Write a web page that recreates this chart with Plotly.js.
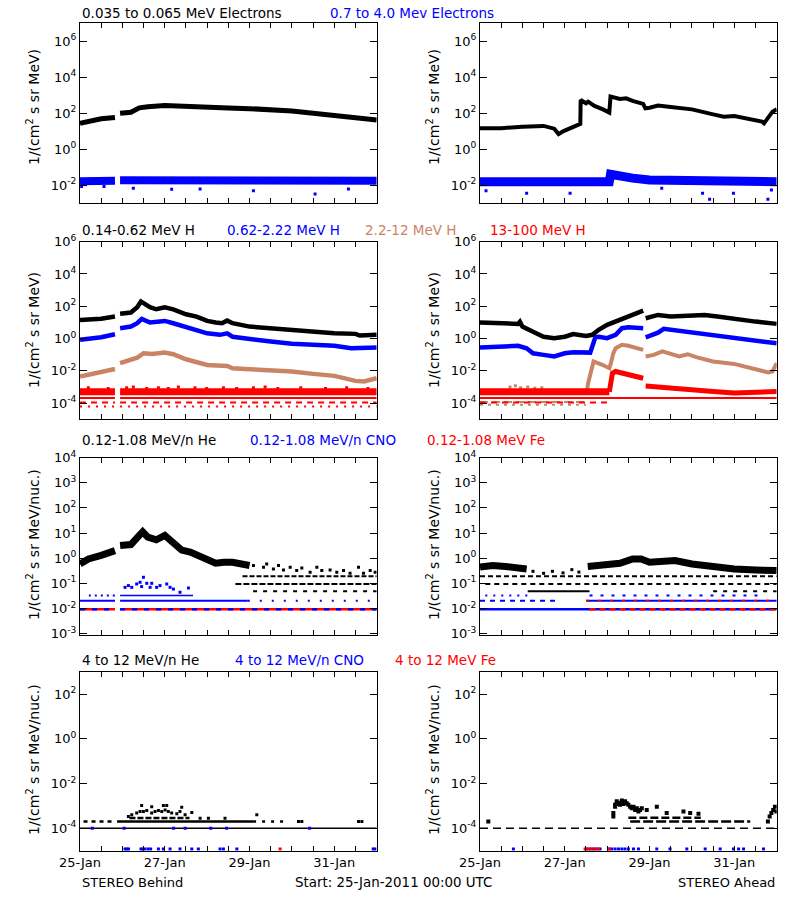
<!DOCTYPE html>
<html><head><meta charset="utf-8">
<script src="https://cdn.plot.ly/plotly-3.0.1.min.js"></script>
<style>body{margin:0;background:#fff}</style>
</head><body><div id="chart" style="width:800px;height:900px"></div>
<script>
// ---------- DATA (hours since 25-Jan-2011 00:00 UTC, flux values) ----------
// Row 1: electrons
const e_beh_lo_h = [0, 7.2, 12, 19.8, null, 22.7, 28.8, 33.6, 38.4, 48, 60, 72, 84, 96, 108, 120, 132, 144, 156, 168];
const e_beh_lo_v = [27.5, 39, 50, 58, null, 100, 115, 200, 234, 270, 257, 214, 200, 182, 158, 135, 100, 78, 58, 43];
const e_beh_hi_h = [0, 6, 12, 19.8, null, 22.7, 36, 48, 60, 72, 84, 96, 108, 120, 132, 144, 156, 168];
const e_beh_hi_v = [0.017, 0.018, 0.018, 0.018, null, 0.019, 0.019, 0.019, 0.018, 0.019, 0.019, 0.018, 0.018, 0.018, 0.018, 0.018, 0.018, 0.018];
const e_beh_hi_out_h = [0.9, 13.6, 30.2, 51.9, 68, 98.2, 133.1, 152];
const e_beh_hi_out_v = [0.0085, 0.0085, 0.0068, 0.006, 0.0063, 0.005, 0.0033, 0.0063];

const e_ahd_lo_h = [0, 12, 24, 36, 42, 44.5, 47, 48, 52.8, 56.4, 56.8, 57.0, 60, 61.2, 64.8, 69.6, 73.2, 73.9, 79.2, 82.8, 86.4, 92.4, 93.6, 96, 100.8, 108, 120, 132, 138, 144, 151.2, 159.6, 160.8, 163.2, 165.6, 168];
const e_ahd_lo_v = [14.8, 14.8, 18, 20, 14, 7, 10, 11, 16.6, 24.5, 25.7, 550, 363, 447, 257, 166, 110, 851, 631, 676, 490, 331, 190, 204, 269, 224, 166, 87, 65, 71, 50, 35, 27.5, 65, 123, 166];
const e_ahd_hi_h = [0, 24, 48, 73.2, 73.9, 79.2, 86.4, 96, 120, 144, 168];
const e_ahd_hi_v = [0.016, 0.017, 0.016, 0.016, 0.041, 0.030, 0.025, 0.020, 0.017, 0.016, 0.016];
const e_ahd_hi_out_h = [3.4, 26.4, 51, 102.9, 126, 130, 143.5, 163, 165];
const e_ahd_hi_out_v = [0.005, 0.0036, 0.0036, 0.0068, 0.0036, 0.0017, 0.0036, 0.0017, 0.0055];

// Row 2: protons
const p_beh_1_h = [0, 12, 19.8, null, 22.7, 28.8, 32.4, 34.5, 36, 39.6, 43.2, 48, 52.8, 60, 66, 72, 76.8, 80.4, 83.3, 86.4, 96, 108, 120, 132, 144, 156, 158.4, 168];
const p_beh_1_v = [14, 17, 23, null, 34, 41, 87, 195, 155, 87, 65, 87, 65, 32, 23, 12.3, 9.8, 8.9, 12.9, 8.9, 5.5, 4.4, 3.5, 2.5, 2.1, 1.95, 1.55, 1.7];
const p_beh_2_h = [0, 12, 19.8, null, 22.7, 28.8, 32.4, 35, 39.6, 48, 52.8, 60, 72, 79.2, 83.3, 86.4, 96, 108, 120, 132, 144, 153.6, 168];
const p_beh_2_v = [0.83, 1.2, 1.86, null, 4.4, 5.5, 8.9, 16.6, 9.8, 12.3, 8.9, 5.0, 2.1, 1.7, 2.1, 1.3, 0.91, 0.65, 0.47, 0.39, 0.355, 0.25, 0.275];
const p_beh_3_h = [0, 7.2, 12, 19.8, null, 22.7, 28.8, 32.4, 36, 40.8, 48, 52.8, 60, 72, 83.3, 86.4, 96, 108, 120, 132, 144, 156, 160.8, 168];
const p_beh_3_v = [0.0045, 0.0065, 0.0091, 0.013, null, 0.030, 0.048, 0.066, 0.123, 0.112, 0.135, 0.107, 0.052, 0.023, 0.020, 0.0145, 0.0126, 0.0115, 0.0091, 0.0065, 0.0049, 0.0024, 0.0022, 0.0035];
const p_beh_4_h = [0, 19.8, null, 22.7, 168];
const p_beh_4_v = [5e-4, 5e-4, null, 5e-4, 5e-4];
const p_beh_4_q1_v = [2.1e-4, 2.1e-4, null, 2.1e-4, 2.1e-4];
const p_beh_4_q2_v = [1.1e-4, 1.1e-4, null, 1.1e-4, 1.1e-4];
const p_beh_4_q3_v = [6.3e-5, 6.3e-5, null, 6.3e-5, 6.3e-5];
const p_beh_4_pts_h = [4.7, 16, 26.4, 30.2, 37.8, 44.4, 50, 55.7, 65.1, 71.7, 81.2, 88.7, 98.2, 104.8, 112, 125, 139, 151, 163];
const p_beh_4_pts_v = [9e-4, 8e-4, 9e-4, 1e-3, 8e-4, 9e-4, 8e-4, 1e-3, 9e-4, 8e-4, 9e-4, 8e-4, 9e-4, 1e-3, 8e-4, 9e-4, 8e-4, 9e-4, 8e-4];

const p_ahd_1_h = [0, 12, 21.6, 22.6, 24, 31.2, 36, 42, 48, 52.8, 60, 63.6, 67.2, 72, 76.8, 84, 90, 92.4, null, 93.8, 100.8, 108, 120, 127.2, 134.4, 144, 156, 168];
const p_ahd_1_v = [9.8, 8.9, 8.1, 11, 5.5, 2.3, 1.3, 1.05, 1.3, 1.9, 1.45, 1.7, 3.5, 7.1, 11.2, 23, 37, 54, null, 18, 29, 23, 25, 29, 23, 16, 11.2, 8.1];
const p_ahd_2_h = [0, 12, 21.6, 26.4, 30, 36, 42, 48, 52.8, 62.4, 63.6, 65.3, 67.2, 72, 76.8, 80.4, 84, 92.4, null, 93.8, 100.8, 104, 108, 120, 132, 144, 156, 168];
const p_ahd_2_v = [0.275, 0.32, 0.355, 0.25, 0.123, 0.098, 0.078, 0.123, 0.141, 0.135, 0.32, 1.2, 1.3, 1.05, 1.7, 4.4, 5.0, 4.4, null, 1.2, 2.3, 4.0, 3.5, 2.3, 1.7, 1.05, 0.65, 0.51];
const p_ahd_3_h = [0, 60.5, 61.2, 62.9, 64.3, 69.6, 73.2, 73.9, 75.5, 76.8, 80.4, 84, 92.4, null, 93.8, 98.4, 103.2, 108, 112.8, 117.6, 122.4, 132, 144, 156, 163.2, 165.6, 168];
const p_ahd_3_v = [5e-4, 5e-4, 0.0017, 0.0115, 0.038, 0.023, 0.0145, 0.025, 0.126, 0.25, 0.41, 0.355, 0.20, null, 0.078, 0.098, 0.16, 0.112, 0.078, 0.107, 0.071, 0.038, 0.027, 0.0126, 0.0079, 0.0091, 0.030];
const p_ahd_3_q_h = [0, 60];
const p_ahd_3_q1_v = [1.2e-4, 1.2e-4];
const p_ahd_3_q2_v = [8e-5, 8e-5];
const p_ahd_3_pts_h = [17, 20, 23, 27, 31, 35];
const p_ahd_3_pts_v = [1e-3, 1.2e-3, 9e-4, 1e-3, 8.5e-4, 9e-4];
const p_ahd_4a_h = [0, 73.2];
const p_ahd_4a_v = [5e-4, 5e-4];
const p_ahd_4b_h = [73.2, 73.9, 75, 76.8, 84, 92.4, null, 93.8, 108, 120, 132, 144, 168];
const p_ahd_4b_v = [5e-4, 0.0017, 0.0072, 0.0091, 0.0056, 0.0035, null, 0.00117, 8.5e-4, 6e-4, 5.2e-4, 4.2e-4, 5.2e-4];
const p_ahd_4_q1_h = [0, 168];
const p_ahd_4_q1_v = [2.1e-4, 2.1e-4];
const p_ahd_4_q2_h = [0, 73];
const p_ahd_4_q2_v = [1.1e-4, 1.1e-4];

// Row 3: 0.12-1.08 MeV/n ions
const he_beh_h = [0, 4.8, 12, 19.8, null, 22.7, 28.8, 33.6, 35.5, 38.4, 43.2, 48, 52.8, 57.6, 62.4, 67.2, 72, 76.8, 81.6, 86.4, 96];
const he_beh_v = [0.59, 0.93, 1.29, 2.0, null, 3.2, 3.5, 8.1, 11.2, 6.9, 5.4, 8.1, 4.4, 2.1, 1.74, 1.29, 1.0, 0.63, 0.69, 0.69, 0.51];
const he_beh_tail_h = [98.2, 103.9, 105.7, 109.5, 112.4, 115.2, 119, 122.7, 125.6, 130.3, 134.1, 136.9, 141.6, 145.4, 149.2, 152.9, 157.7, 160.5, 164.3, 167.1];
const he_beh_tail_v = [0.51, 0.44, 0.59, 0.37, 0.51, 0.34, 0.44, 0.32, 0.41, 0.275, 0.44, 0.32, 0.34, 0.275, 0.32, 0.25, 0.44, 0.25, 0.32, 0.275];
const he_beh_q1_h = [92, 168];  const he_beh_q1_v = [0.19, 0.19];
const he_beh_q2_h = [88, 168];  const he_beh_q2_v = [0.093, 0.093];
const he_beh_q3_h = [98, 168];  const he_beh_q3_v = [0.048, 0.048];
const cno_beh_q1a_h = [5, 19.8]; const cno_beh_q1a_v = [0.033, 0.033];
const cno_beh_q1b_h = [22.7, 64]; const cno_beh_q1b_v = [0.033, 0.033];
const cno_beh_q2a_h = [0, 19.8, null, 22.7, 95]; const cno_beh_q2a_v = [0.02, 0.02, null, 0.02, 0.02];
const cno_beh_q2b_h = [95, 168]; const cno_beh_q2b_v = [0.02, 0.02];
const lvl_beh_h = [0, 19.8, null, 22.7, 168]; const lvl_beh_v = [0.0093, 0.0093, null, 0.0093, 0.0093];
const cno_beh_pts_h = [25.5, 27.4, 29.3, 32.1, 34, 34.9, 35.9, 37.8, 39.7, 40.6, 43.4, 45.3, 49.1, 51, 52.9, 56.6, 61.4];
const cno_beh_pts_v = [0.069, 0.081, 0.069, 0.094, 0.11, 0.074, 0.174, 0.1, 0.069, 0.1, 0.069, 0.081, 0.094, 0.069, 0.059, 0.044, 0.065];

const he_ahd_h = [0, 7.2, 14.4, 19.2, 26.4, null, 61, 72, 79.2, 86.4, 91.2, 96, 103.2, 110.4, 120, 132, 144, 156, 168];
const he_ahd_v = [0.44, 0.51, 0.47, 0.44, 0.37, null, 0.47, 0.51, 0.63, 0.93, 0.93, 0.69, 0.81, 0.81, 0.59, 0.44, 0.37, 0.34, 0.32];
const he_ahd_q1_h = [0, 168];   const he_ahd_q1_v = [0.19, 0.19];
const he_ahd_q2_h = [3, 168];   const he_ahd_q2_v = [0.093, 0.093];
const he_ahd_q3a_h = [27, 62];  const he_ahd_q3a_v = [0.048, 0.048];
const he_ahd_q3b_h = [132, 168]; const he_ahd_q3b_v = [0.048, 0.048];
const cno_ahd_q1a_h = [3, 28];   const cno_ahd_q1a_v = [0.033, 0.033];
const cno_ahd_q1b_h = [62, 158]; const cno_ahd_q1b_v = [0.033, 0.033];
const cno_ahd_q2a_h = [0, 45];   const cno_ahd_q2a_v = [0.02, 0.02];
const cno_ahd_q2b_h = [60, 168]; const cno_ahd_q2b_v = [0.02, 0.02];
const lvl_ahd_h = [0, 168];      const lvl_ahd_v = [0.0093, 0.0093];
const fe_ahd_h = [62, 168];      const fe_ahd_v = [0.0093, 0.0093];
const he_ahd_sp_h = [30, 36, 41, 47, 52, 56];
const he_ahd_sp_v = [0.3, 0.25, 0.3, 0.26, 0.35, 0.28];

// Row 4: 4-12 MeV/n ions
const he4_beh_base_h = [0, 168]; const he4_beh_base_v = [1e-4, 1e-4];
const he4_beh_qa_h = [2, 20];    const he4_beh_qa_v = [2e-4, 2e-4];
const he4_beh_qb_h = [21, 98];   const he4_beh_qb_v = [2e-4, 2e-4];
const he4_beh_qc_h = [98, 115];  const he4_beh_qc_v = [2e-4, 2e-4];
const he4_beh_qd_h = [28, 62];   const he4_beh_qd_v = [2.9e-4, 2.9e-4];
const he4_beh_pts_h = [27.4, 29.3, 32.1, 34, 35.9, 37.8, 40.6, 42.5, 44.4, 46.3, 48.2, 50, 51.9, 54.8, 56.6, 59.5, 63.3, 68, 72.7, 82.1, 100.1, 34.9, 40.6, 47.2, 49.1, 57.6, 123.7, 125.6, 157.7, 159.6];
const he4_beh_pts_v = [3.4e-4, 4.0e-4, 4.8e-4, 5.6e-4, 5.6e-4, 6.2e-4, 4.8e-4, 5.6e-4, 6.2e-4, 5.6e-4, 6.6e-4, 5.6e-4, 4.8e-4, 4.5e-4, 5.6e-4, 4.0e-4, 5.1e-4, 2.8e-4, 2.8e-4, 2.8e-4, 4.0e-4, 1.05e-3, 9.3e-4, 1.05e-3, 1.05e-3, 8.7e-4, 2e-4, 2e-4, 2e-4, 2e-4];
const cno4_beh_bot_h = [25.5, 26.5, 27.5, 34.5, 35.5, 36.5, 38.4, 40, 44.4, 47.2, 51, 56.6, 63.3, 67, 79.3, 81.2, 88.8, 166, 167];
const cno4_beh_bot_v = [1.2e-5, 1.2e-5, 1.2e-5, 1.2e-5, 1.2e-5, 1.2e-5, 1.2e-5, 1.2e-5, 1.2e-5, 1.2e-5, 1.2e-5, 1.2e-5, 1.2e-5, 1.2e-5, 1.2e-5, 1.2e-5, 1.2e-5, 1.2e-5, 1.2e-5];
const cno4_beh_mid_h = [7, 25, 53, 59.5, 74, 83, 130];
const cno4_beh_mid_v = [1e-4, 1e-4, 1e-4, 1e-4, 1e-4, 1e-4, 1e-4];
const fe4_beh_h = [113.3]; const fe4_beh_v = [1.2e-5];

const he4_ahd_base_h = [0, 168];   const he4_ahd_base_v = [1e-4, 1e-4];
const he4_ahd_q2_h = [85, 153];    const he4_ahd_q2_v = [2e-4, 2e-4];
const he4_ahd_q3_h = [84, 125];    const he4_ahd_q3_v = [3e-4, 3e-4];
const he4_ahd_pts_h = [4.7, 75.5, 76.5, 77.4, 78.4, 79.3, 80.3, 81.2, 82.1, 83.1, 84, 85, 85.9, 86.9, 87.8, 88.8, 89.7, 90.6, 91.6, 94.4, 100.1, 105.7, 115.2, 119, 123.7, 75.5, 76.5, 77.4, 79.3, 81.2, 163, 164, 165, 166, 167, 167.8];
const he4_ahd_pts_v = [2e-4, 4.8e-4, 1.12e-3, 1.6e-3, 1.33e-3, 1.4e-3, 1.74e-3, 1.23e-3, 1.6e-3, 1.33e-3, 1.12e-3, 9.3e-4, 7.9e-4, 9.3e-4, 6.6e-4, 7.9e-4, 5.6e-4, 6.6e-4, 7.9e-4, 6.6e-4, 9.3e-4, 4.8e-4, 5.6e-4, 4.8e-4, 4.5e-4, 3.4e-4, 9.3e-4, 1.23e-3, 1.12e-3, 1.4e-3, 2e-4, 3.4e-4, 4.8e-4, 6.6e-4, 9.3e-4, 5.6e-4];
const cno4_ahd_bot_h = [18.9, 60.4, 62.3, 64.2, 66.1, 68, 72.7, 74.6, 76.5, 78.4, 80.3, 82.1, 84, 86.9, 89.7, 100.1, 107.6, 117.1, 127.5, 136, 143.5, 146.4, 149.2, 160.5];
const cno4_ahd_bot_v = [1.2e-5, 1.2e-5, 1.2e-5, 1.2e-5, 1.2e-5, 1.2e-5, 1.2e-5, 1.2e-5, 1.2e-5, 1.2e-5, 1.2e-5, 1.2e-5, 1.2e-5, 1.2e-5, 1.2e-5, 1.2e-5, 1.2e-5, 1.2e-5, 1.2e-5, 1.2e-5, 1.2e-5, 1.2e-5, 1.2e-5, 1.2e-5];
const fe4_ahd_bot_h = [59.5, 61.4, 63.3, 65.2, 67.1, 73.3];
const fe4_ahd_bot_v = [1.2e-5, 1.2e-5, 1.2e-5, 1.2e-5, 1.2e-5, 1.2e-5];

// Tick labels
const row1_tickvals = [1e-2, 1, 1e2, 1e4, 1e6];
const row1_ticktext = ['10<sup>-2</sup>', '10<sup>0</sup>', '10<sup>2</sup>', '10<sup>4</sup>', '10<sup>6</sup>'];
const row2_tickvals = [1e-4, 1e-2, 1, 1e2, 1e4, 1e6];
const row2_ticktext = ['10<sup>-4</sup>', '10<sup>-2</sup>', '10<sup>0</sup>', '10<sup>2</sup>', '10<sup>4</sup>', '10<sup>6</sup>'];
const row3_tickvals = [1e-3, 1e-2, 1e-1, 1, 10, 100, 1e3, 1e4];
const row3_ticktext = ['10<sup>-3</sup>', '10<sup>-2</sup>', '10<sup>-1</sup>', '10<sup>0</sup>', '10<sup>1</sup>', '10<sup>2</sup>', '10<sup>3</sup>', '10<sup>4</sup>'];
const row4_tickvals = [1e-4, 1e-2, 1, 1e2];
const row4_ticktext = ['10<sup>-4</sup>', '10<sup>-2</sup>', '10<sup>0</sup>', '10<sup>2</sup>'];

// ---------- BUILD ----------
const K = '#000000', B = '#0000ff', BR = '#c98466', R = '#ff0000';
const FONT = 'DejaVu Sans';
const T0 = Date.UTC(2011, 0, 25);
const tx = hs => hs.map(h => (h === null ? null : T0 + h * 3600000));
const an = (p, c) => (p === 1 ? c : c + p);
function L(h, v, color, width, p, dash) {
  return {type: 'scatter', mode: 'lines', x: tx(h), y: v, xaxis: an(p, 'x'), yaxis: an(p, 'y'),
    line: {color: color, width: width, dash: dash || 'solid'}, connectgaps: false, hoverinfo: 'skip', showlegend: false};
}
function M(h, v, color, size, p) {
  return {type: 'scatter', mode: 'markers', x: tx(h), y: v, xaxis: an(p, 'x'), yaxis: an(p, 'y'),
    marker: {color: color, size: size, symbol: 'square', line: {width: 0}}, hoverinfo: 'skip', showlegend: false};
}

const traces = [
  // panel 1
  L(e_beh_hi_h, e_beh_hi_v, B, 8, 1), M(e_beh_hi_out_h, e_beh_hi_out_v, B, 3, 1),
  L(e_beh_lo_h, e_beh_lo_v, K, 5, 1),
  // panel 2
  L(e_ahd_hi_h, e_ahd_hi_v, B, 9, 2), M(e_ahd_hi_out_h, e_ahd_hi_out_v, B, 3, 2),
  L(e_ahd_lo_h, e_ahd_lo_v, K, 4, 2),
  // panel 3
  L(p_beh_4_h, p_beh_4_q3_v, R, 2, 3, '2px,6px'), L(p_beh_4_h, p_beh_4_q2_v, R, 2, 3, '6px,5px'),
  L(p_beh_4_h, p_beh_4_q1_v, R, 2, 3), L(p_beh_4_h, p_beh_4_v, R, 7, 3), M(p_beh_4_pts_h, p_beh_4_pts_v, R, 3, 3),
  L(p_beh_3_h, p_beh_3_v, BR, 4.5, 3), L(p_beh_2_h, p_beh_2_v, B, 4.5, 3), L(p_beh_1_h, p_beh_1_v, K, 4.5, 3),
  // panel 4
  L(p_ahd_3_q_h, p_ahd_3_q2_v, BR, 2, 4, '3px,5px'), L(p_ahd_3_q_h, p_ahd_3_q1_v, BR, 2, 4, '8px,4px'),
  L(p_ahd_4_q2_h, p_ahd_4_q2_v, R, 2, 4, '6px,5px'), L(p_ahd_4_q1_h, p_ahd_4_q1_v, R, 2, 4),
  L(p_ahd_3_h, p_ahd_3_v, BR, 4, 4), M(p_ahd_3_pts_h, p_ahd_3_pts_v, BR, 3, 4),
  L(p_ahd_4a_h, p_ahd_4a_v, R, 7, 4), L(p_ahd_4b_h, p_ahd_4b_v, R, 5, 4),
  L(p_ahd_2_h, p_ahd_2_v, B, 4.5, 4), L(p_ahd_1_h, p_ahd_1_v, K, 4.5, 4),
  // panel 5
  L(lvl_beh_h, lvl_beh_v, R, 2.5, 5), L(lvl_beh_h, lvl_beh_v, B, 2.5, 5, '5px,7px'),
  L(cno_beh_q2a_h, cno_beh_q2a_v, B, 2, 5), L(cno_beh_q2b_h, cno_beh_q2b_v, B, 2, 5, '2px,10px'),
  L(cno_beh_q1a_h, cno_beh_q1a_v, B, 2, 5, '2px,4px'), L(cno_beh_q1b_h, cno_beh_q1b_v, B, 1.5, 5),
  M(cno_beh_pts_h, cno_beh_pts_v, B, 3, 5),
  L(he_beh_q3_h, he_beh_q3_v, K, 2, 5, '4px,6px'), L(he_beh_q2_h, he_beh_q2_v, K, 2, 5, '6px,2px'),
  L(he_beh_q1_h, he_beh_q1_v, K, 2, 5, '5px,2px'),
  L(he_beh_h, he_beh_v, K, 7, 5), M(he_beh_tail_h, he_beh_tail_v, K, 3, 5),
  // panel 6
  L(lvl_ahd_h, lvl_ahd_v, B, 2.5, 6), L(fe_ahd_h, fe_ahd_v, R, 2.5, 6, '6px,4px'),
  L(cno_ahd_q2a_h, cno_ahd_q2a_v, B, 2, 6, '5px,5px'), L(cno_ahd_q2b_h, cno_ahd_q2b_v, B, 2, 6),
  L(cno_ahd_q2b_h, cno_ahd_q2b_v, R, 2, 6, '3px,9px'),
  L(cno_ahd_q1a_h, cno_ahd_q1a_v, B, 2, 6, '2px,6px'), L(cno_ahd_q1b_h, cno_ahd_q1b_v, B, 2, 6, '3px,8px'),
  L(he_ahd_q3a_h, he_ahd_q3a_v, K, 2, 6), L(he_ahd_q3b_h, he_ahd_q3b_v, K, 2, 6, '4px,6px'),
  L(he_ahd_q2_h, he_ahd_q2_v, K, 2, 6, '5px,4px'), L(he_ahd_q1_h, he_ahd_q1_v, K, 2, 6, '5px,3px'),
  L(he_ahd_h, he_ahd_v, K, 7, 6), M(he_ahd_sp_h, he_ahd_sp_v, K, 3, 6),
  // panel 7
  L(he4_beh_base_h, he4_beh_base_v, K, 1.5, 7), M(cno4_beh_mid_h, cno4_beh_mid_v, B, 3, 7),
  L(he4_beh_qa_h, he4_beh_qa_v, K, 2.5, 7, '4px,4px'), L(he4_beh_qb_h, he4_beh_qb_v, K, 2.5, 7),
  L(he4_beh_qc_h, he4_beh_qc_v, K, 2.5, 7, '3px,6px'), L(he4_beh_qd_h, he4_beh_qd_v, K, 2.5, 7, '6px,2px'),
  M(he4_beh_pts_h, he4_beh_pts_v, K, 3, 7),
  M(cno4_beh_bot_h, cno4_beh_bot_v, B, 3, 7), M(fe4_beh_h, fe4_beh_v, R, 3, 7),
  // panel 8
  L(he4_ahd_base_h, he4_ahd_base_v, K, 1.5, 8, '8px,5px'),
  L(he4_ahd_q2_h, he4_ahd_q2_v, K, 2.5, 8, '10px,3px'), L(he4_ahd_q3_h, he4_ahd_q3_v, K, 2.5, 8, '8px,3px'),
  M(he4_ahd_pts_h, he4_ahd_pts_v, K, 4, 8),
  M(cno4_ahd_bot_h, cno4_ahd_bot_v, B, 3, 8), M(fe4_ahd_bot_h, fe4_ahd_bot_v, R, 3, 8)
];

const xDom = [[0.1, 0.4709], [0.6, 0.9709]];
const yDom = [[0.7741, 0.9741], [0.5341, 0.7315], [0.2944, 0.4914], [0.0548, 0.2537]];
const yRange = [[-3, 7], [-5, 6], [-3.06, 4], [-5, 3]];
const yTV = [row1_tickvals, row2_tickvals, row3_tickvals, row4_tickvals];
const yTT = [row1_ticktext, row2_ticktext, row3_ticktext, row4_ticktext];

const layout = {
  width: 800, height: 900, margin: {l: 0, r: 0, t: 0, b: 0},
  paper_bgcolor: '#fff', plot_bgcolor: '#fff', showlegend: false,
  font: {family: FONT, size: 13, color: '#000'},
  annotations: []
};
for (let p = 1; p <= 8; p++) {
  const row = Math.floor((p - 1) / 2), col = (p - 1) % 2;
  layout[an(p, 'xaxis')] = {
    type: 'date', domain: xDom[col], anchor: an(p, 'y'),
    range: ['2011-01-25', '2011-02-01'],
    tickmode: 'linear', tick0: '2011-01-25', dtick: 172800000, tickformat: '%d-%b',
    ticks: 'inside', ticklen: 5, tickcolor: '#000',
    minor: {dtick: 43200000, tick0: '2011-01-25', ticks: 'inside', ticklen: 5, tickcolor: '#000', showgrid: false},
    showline: true, linecolor: '#000', linewidth: 1, mirror: 'ticks',
    showgrid: false, zeroline: false, showticklabels: row === 3,
    tickfont: {family: FONT, size: 13, color: '#000'}, fixedrange: true
  };
  layout[an(p, 'yaxis')] = {
    type: 'log', domain: yDom[row], anchor: an(p, 'x'), range: yRange[row],
    tickmode: 'array', tickvals: yTV[row], ticktext: yTT[row],
    ticks: 'inside', ticklen: 7, tickcolor: '#000',
    showline: true, linecolor: '#000', linewidth: 1, mirror: 'ticks',
    showgrid: false, zeroline: false,
    tickfont: {family: FONT, size: 13, color: '#000'}, fixedrange: true
  };
}

function txt(text, xpx, ypx, color, anchor, size, angle) {
  layout.annotations.push({text: text, xref: 'paper', yref: 'paper', x: xpx / 800, y: 1 - ypx / 900,
    xanchor: anchor || 'left', yanchor: 'middle', showarrow: false,
    textangle: angle || 0, font: {family: FONT, size: size || 13, color: color}});
}
// row titles
const TS = 13.5;
txt('0.035 to 0.065 MeV Electrons', 80, 13, K, 'left', TS); txt('0.7 to 4.0 Mev Electrons', 328, 13, B, 'left', TS);
txt('0.14-0.62 MeV H', 80, 230, K, 'left', TS); txt('0.62-2.22 MeV H', 225, 230, B, 'left', TS);
txt('2.2-12 MeV H', 363, 230, BR, 'left', TS); txt('13-100 MeV H', 488, 230, R, 'left', TS);
txt('0.12-1.08 MeV/n He', 80, 440, K, 'left', TS); txt('0.12-1.08 MeV/n CNO', 248, 440, B, 'left', TS); txt('0.12-1.08 MeV Fe', 425, 440, R, 'left', TS);
txt('4 to 12 MeV/n He', 80, 660, K, 'left', TS); txt('4 to 12 MeV/n CNO', 233, 660, B, 'left', TS); txt('4 to 12 MeV Fe', 393, 660, R, 'left', TS);
// y titles
const yt1 = '1/(cm<sup>2</sup> s sr MeV)', yt2 = '1/(cm<sup>2</sup> s sr MeV/nuc.)';
const yc = [107, 330, 545, 760];
[33, 433].forEach(xc => {
  txt(yt1, xc, yc[0], K, 'center', 14, -90); txt(yt1, xc, yc[1], K, 'center', 14, -90);
  txt(yt2, xc, yc[2], K, 'center', 14, -90); txt(yt2, xc, yc[3], K, 'center', 14, -90);
});
// bottom notes
txt('STEREO Behind', 80, 882, K); txt('Start: 25-Jan-2011 00:00 UTC', 293, 882, K, 'left', 13.4);
txt('STEREO Ahead', 777, 882, K, 'right');

Plotly.newPlot('chart', traces, layout, {staticPlot: true, displayModeBar: false});
</script></body></html>
